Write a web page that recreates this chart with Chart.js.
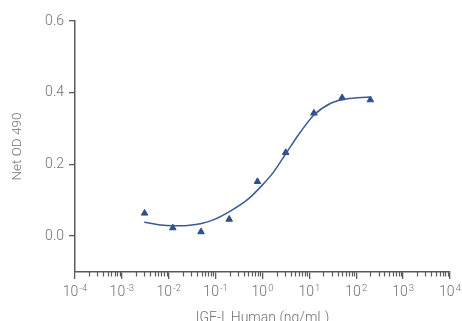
<!DOCTYPE html>
<html>
<head>
<meta charset="utf-8">
<script src="https://cdn.jsdelivr.net/npm/chart.js@4/dist/chart.umd.min.js"></script>
<style>
    html, body { margin: 0; padding: 0; background: #ffffff; }
</style>
</head>
<body>
<canvas id="graficoIGF" width="462" height="321"></canvas>
<script>

// pontos medidos (ng/mL, Net OD 490)
const concentracoes = [0.00305, 0.0122, 0.0488, 0.195, 0.781, 3.125, 12.5, 50, 200];
const absorbancias = [0.064, 0.023, 0.012, 0.047, 0.152, 0.233, 0.343, 0.386, 0.380];

// curva ajustada
const curvaX = [0.003, 0.006, 0.0125, 0.025, 0.05, 0.1, 0.2, 0.5, 1, 1.75, 3.3, 6.5, 12.5, 28, 54, 107, 210];
const curvaY = [0.039, 0.032, 0.029, 0.030, 0.035, 0.048, 0.069, 0.104, 0.143, 0.180, 0.234, 0.291, 0.338, 0.370, 0.381, 0.386, 0.388];

// eixos
const ticksX = [1e-4, 1e-3, 1e-2, 1e-1, 1, 10, 100, 1000, 10000];
const baseX = "10";
const expoentesX = ["-4", "-3", "-2", "-1", "0", "1", "2", "3", "4"];
const multiplicadoresMenores = [2, 3, 4, 5, 6, 7, 8, 9];
const ticksY = [0, 0.2, 0.4, 0.6];
const rotulosY = ["0.0", "0.2", "0.4", "0.6"];

const corSerie = "#2f4f8c";
const corEixo = "#5a5a5a";
const corTexto = "#707070";
const fonte = "Roboto, 'Liberation Sans', sans-serif";

const ticksMenores = {
    id: "ticksMenores",
    afterDraw(chart) {
        const escala = chart.scales.x;
        const ctx = chart.ctx;
        ctx.save();
        ctx.strokeStyle = corEixo;
        ctx.lineWidth = 1.2;
        escala.ticks.forEach(t => {
            if (t.major) return;
            const px = Math.round(escala.getPixelForValue(t.value)) + 0.5;
            ctx.beginPath();
            ctx.moveTo(px, escala.top);
            ctx.lineTo(px, escala.top + 4.5);
            ctx.stroke();
        });
        ctx.restore();
    }
};

// rotulos 10^n com expoente menor e elevado
const rotulosPotencia = {
    id: "rotulosPotencia",
    afterDraw(chart) {
        const escala = chart.scales.x;
        const ctx = chart.ctx;
        ctx.save();
        ctx.fillStyle = corTexto;
        ctx.textBaseline = "alphabetic";
        ctx.textAlign = "left";
        const yBase = escala.top + 24;
        ticksX.forEach((v, i) => {
            const px = escala.getPixelForValue(v);
            ctx.font = "300 14px " + fonte;
            const larguraBase = ctx.measureText(baseX).width;
            ctx.font = "300 9.5px " + fonte;
            const larguraExp = ctx.measureText(expoentesX[i]).width;
            const inicio = px - (larguraBase + larguraExp + 1) / 2;
            ctx.font = "300 14px " + fonte;
            ctx.fillText(baseX, inicio, yBase);
            ctx.font = "300 9.5px " + fonte;
            ctx.fillText(expoentesX[i], inicio + larguraBase + 1, yBase - 5);
        });
        ctx.restore();
    }
};

const ctx = document.getElementById("graficoIGF").getContext("2d");

new Chart(ctx, {

    type: "scatter",

    data: {
        datasets: [
            {
                label: "Ajuste",
                data: curvaX.map((x, i) => ({ x: x, y: curvaY[i] })),
                showLine: true,
                cubicInterpolationMode: "monotone",
                borderColor: "#3a5a94",
                borderWidth: 1.5,
                pointRadius: 0,
                fill: false
            },
            {
                label: "IGF-I",
                data: concentracoes.map((x, i) => ({ x: x, y: absorbancias[i] })),
                pointStyle: "triangle",
                pointRadius: 3.8,
                pointBorderWidth: 1,
                backgroundColor: corSerie,
                borderColor: corSerie
            }
        ]
    },

    options: {
        responsive: false,
        animation: false,
        layout: {
            padding: { top: 21, right: 12, bottom: 0, left: 0 }
        },
        plugins: {
            legend: { display: false },
            tooltip: { enabled: false }
        },
        scales: {
            x: {
                type: "logarithmic",
                min: 1e-4,
                max: 1e4,
                afterBuildTicks(escala) {
                    const lista = [];
                    ticksX.forEach((v, i) => {
                        lista.push({ value: v, major: true });
                        if (i < ticksX.length - 1) {
                            multiplicadoresMenores.forEach(m => lista.push({ value: v * m, major: false }));
                        }
                    });
                    escala.ticks = lista;
                },
                afterFit(escala) {
                    escala.height = 49;
                },
                grid: {
                    drawOnChartArea: false,
                    tickLength: 7,
                    lineWidth: 1.3,
                    tickColor: c => (c.tick && c.tick.major) ? corEixo : "rgba(0,0,0,0)"
                },
                border: { display: true, color: corEixo, width: 1.5 },
                ticks: {
                    autoSkip: false,
                    maxRotation: 0,
                    callback: () => ""
                },
                title: {
                    display: true,
                    text: "IGF-I, Human (ng/mL)",
                    color: corTexto,
                    font: { family: fonte, size: 14, weight: 300, lineHeight: 0.3 },
                    padding: { top: 0, bottom: 0 }
                }
            },
            y: {
                min: -0.1,
                max: 0.6,
                afterBuildTicks(escala) {
                    escala.ticks = ticksY.map(v => ({ value: v }));
                },
                afterFit(escala) {
                    escala.width = 75;
                },
                grid: {
                    drawOnChartArea: false,
                    tickLength: 6,
                    lineWidth: 1.3,
                    tickColor: corEixo
                },
                border: { display: true, color: corEixo, width: 1.5 },
                ticks: {
                    padding: 5,
                    color: corTexto,
                    font: { family: fonte, size: 14, weight: 300 },
                    callback: function (valor) {
                        const i = ticksY.findIndex(v => Math.abs(v - valor) < 1e-9);
                        return i >= 0 ? rotulosY[i] : "";
                    }
                },
                title: {
                    display: true,
                    text: "Net OD 490",
                    color: corTexto,
                    font: { family: fonte, size: 13.5, weight: 300 },
                    padding: { top: 10, bottom: 0 }
                }
            }
        }
    },

    plugins: [ticksMenores, rotulosPotencia]
});
</script>
</body>
</html>
